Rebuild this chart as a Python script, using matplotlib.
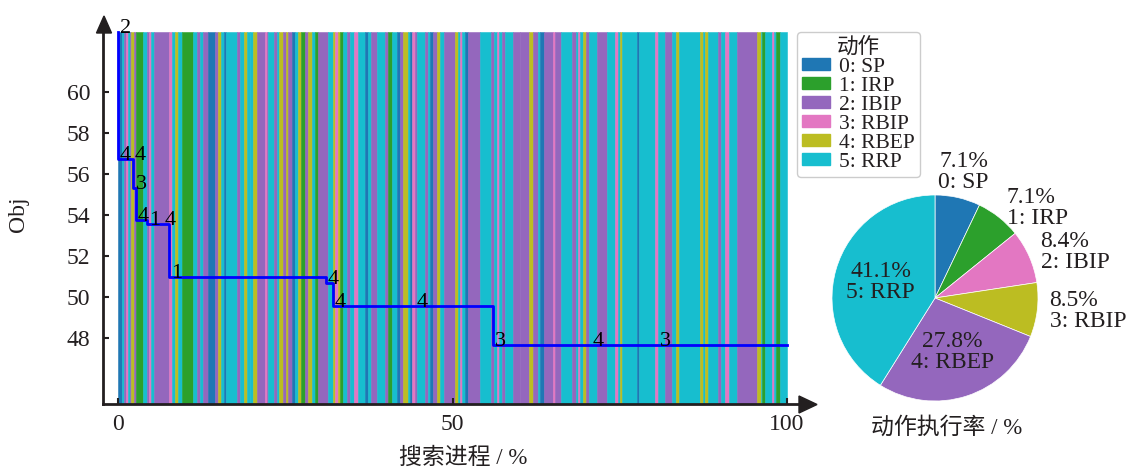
import matplotlib
matplotlib.use("Agg")
import matplotlib.pyplot as plt
from matplotlib.patches import Polygon, Patch
import numpy as np

plt.rcParams['font.family'] = ['Liberation Serif', 'Noto Sans CJK SC']
TXT = '#231f20'

# ---------------- data ----------------
action_names = ['0: SP', '1: IRP', '2: IBIP', '3: RBIP', '4: RBEP', '5: RRP']
action_colors = ['tab:blue', 'tab:green', 'tab:purple', 'tab:pink', 'tab:olive', 'tab:cyan']

# action chosen at each iteration, run-length encoded
stripe_actions = [
    0,5,2,3,5,2,4,2,1,5,2,3,5,2,3,5,4,5,1,5,2,5,2,0,2,4,5,0,5,2,5,4,5,
    5,4,2,3,2,5,2,5,4,2,4,2,0,5,4,1,2,4,5,1,2,5,4,3,4,1,5,2,5,3,5,0,5,2,5,
    2,1,5,0,2,4,5,0,3,2,5,2,5,0,2,4,5,2,4,5,3,5,0,2,5,2,5,3,5,2,5,2,
    2,4,2,5,0,2,3,2,5,2,5,3,5,4,2,5,2,5,3,5,4,5,0,5,
    3,5,2,5,4,5,4,5,4,5,2,5,3,5,2,4,5,1,5,3,5,1,5,
]
stripe_lengths = [
    4,2,2,2,2,1,3,2,7,4,2,2,3,15,3,3,3,4,11,4,3,3,5,7,3,3,3,2,11,3,4,3,3,
    3,4,8,2,1,6,3,2,4,3,2,4,3,3,3,4,3,4,3,3,10,5,2,3,2,3,4,3,4,4,7,3,3,6,8,
    3,4,5,3,3,5,2,2,3,2,8,3,2,3,4,3,4,11,3,2,2,3,3,12,11,3,3,2,3,3,8,7,
    9,4,5,2,4,9,2,6,11,4,2,2,3,3,3,8,10,8,3,2,2,15,2,16,
    3,7,7,4,3,21,3,2,3,10,3,4,4,8,20,4,1,3,7,2,2,4,7,
]

# improvements of the best objective: search progress (%), objective, action
imp_progress = [0.0, 0.0, 2.20, 2.30, 2.62, 4.30, 6.60, 7.62, 31.05, 32.09, 44.4, 56.10, 70.6, 80.7]
imp_obj = [62.9, 56.72, 56.70, 55.31, 53.76, 53.56, 53.55, 50.98, 50.69, 49.57, 49.56, 47.67, 47.66, 47.65]
imp_action = [2, 4, 4, 3, 4, 1, 4, 1, 4, 4, 4, 3, 4, 3]

pie_pct = [7.1, 7.1, 8.4, 8.5, 27.8, 41.1]
pie_labels = ['0: SP', '1: IRP', '2: IBIP', '3: RBIP', '4: RBEP', '5: RRP']
pie_colors = ['tab:blue', 'tab:green', 'tab:pink', 'tab:olive', 'tab:purple', 'tab:cyan']

x_ticks = [0, 50, 100]
y_ticks = [48, 50, 52, 54, 56, 58, 60]

# ---------------- figure ----------------
W, H = 1130, 470
fig = plt.figure(figsize=(W / 100, H / 100), dpi=100)

def fx(px):
    return px / W

def fy(py):
    return 1 - py / H

ax = fig.add_axes([fx(103), fy(404), fx(800) - fx(103), fy(32) - fy(404)])
ylo, yhi = 44.8, 62.9
ax.set_xlim(-2.24, 101.94)
ax.set_ylim(ylo, yhi)

total = sum(stripe_lengths)
starts = np.concatenate([[0], np.cumsum(stripe_lengths)[:-1]]) / total * 100
widths = np.array(stripe_lengths) / total * 100
cols = [action_colors[a] for a in stripe_actions]
ax.bar(starts, yhi - ylo, width=widths, bottom=ylo, align='edge',
       color=cols, edgecolor=cols, linewidth=0.4, zorder=1)

ax.plot(imp_progress + [100], imp_obj + [imp_obj[-1]], drawstyle='steps-post',
        color='#0000ff', lw=2.0, zorder=3, clip_on=False)
for xp, yv, a in zip(imp_progress, imp_obj, imp_action):
    ax.annotate(str(a), (xp, yv), xytext=(1.5, -0.5), textcoords='offset points',
                ha='left', va='baseline', fontsize=16, color='black', zorder=4,
                annotation_clip=False)

for s in ['top', 'right']:
    ax.spines[s].set_visible(False)
for s in ['left', 'bottom']:
    ax.spines[s].set_linewidth(2)
    ax.spines[s].set_color(TXT)
    ax.spines[s].set_zorder(5)
ax.set_xticks(x_ticks)
ax.set_yticks(y_ticks)
ax.tick_params(direction='in', length=4, width=1.5, color=TXT, labelsize=17,
               labelcolor=TXT)
ax.tick_params(axis='y', pad=9)
ax.tick_params(axis='x', pad=7)

# axis arrows
fig.patches.append(Polygon([(fx(96.5), fy(33)), (fx(111.5), fy(33)), (fx(104), fy(16))],
                           closed=True, transform=fig.transFigure, color=TXT, zorder=6))
fig.patches.append(Polygon([(fx(799), fy(396)), (fx(799), fy(413)), (fx(817), fy(404.5))],
                           closed=True, transform=fig.transFigure, color=TXT, zorder=6))

fig.text(fx(18), fy(214), 'Obj', rotation=90, ha='center', va='center', fontsize=17, color=TXT)
fig.text(fx(463), fy(458), '搜索进程 / %', ha='center', va='center', fontsize=16.5, color=TXT)

handles = [Patch(facecolor=c, edgecolor=c) for c in action_colors]
leg = fig.legend(handles, action_names, title='动作', loc='upper left',
                 bbox_to_anchor=(fx(797), fy(32)), bbox_transform=fig.transFigure,
                 borderaxespad=0, fontsize=15.5, title_fontsize=15.5, handlelength=1.3,
                 handleheight=0.45, handletextpad=0.4, labelspacing=0.0,
                 borderpad=0.25, fancybox=True, framealpha=1, edgecolor='#cccccc')
for t in leg.get_texts():
    t.set_color(TXT)
leg.get_title().set_color(TXT)

# pie
R = 103
pax = fig.add_axes([fx(935 - 1.25 * R), fy(298 + 1.25 * R), 2.5 * R / W, 2.5 * R / H])
pax.pie(pie_pct, colors=pie_colors, startangle=90, counterclock=False, radius=1,
        wedgeprops=dict(edgecolor='white', linewidth=0.5))
pax.set_xlim(-1.25, 1.25)
pax.set_ylim(-1.25, 1.25)
cum = 0
for p, lab in zip(pie_pct, pie_labels):
    mid = np.deg2rad(90 - (cum + p / 2) * 3.6)
    cum += p
    if p > 20:
        r, ha = 0.55, 'center'
    elif abs(np.cos(mid)) < 0.4:
        r, ha = 1.25, 'center'
    else:
        r, ha = 1.12, 'left'
    pax.text(r * np.cos(mid), r * np.sin(mid), f'{p}%\n{lab}', ha=ha, va='center',
             fontsize=17, color=TXT, linespacing=1.0, clip_on=False)
fig.text(fx(947), fy(428), '动作执行率 / %', ha='center', va='center', fontsize=16.5, color=TXT)

fig.savefig('out.png', dpi=100)
